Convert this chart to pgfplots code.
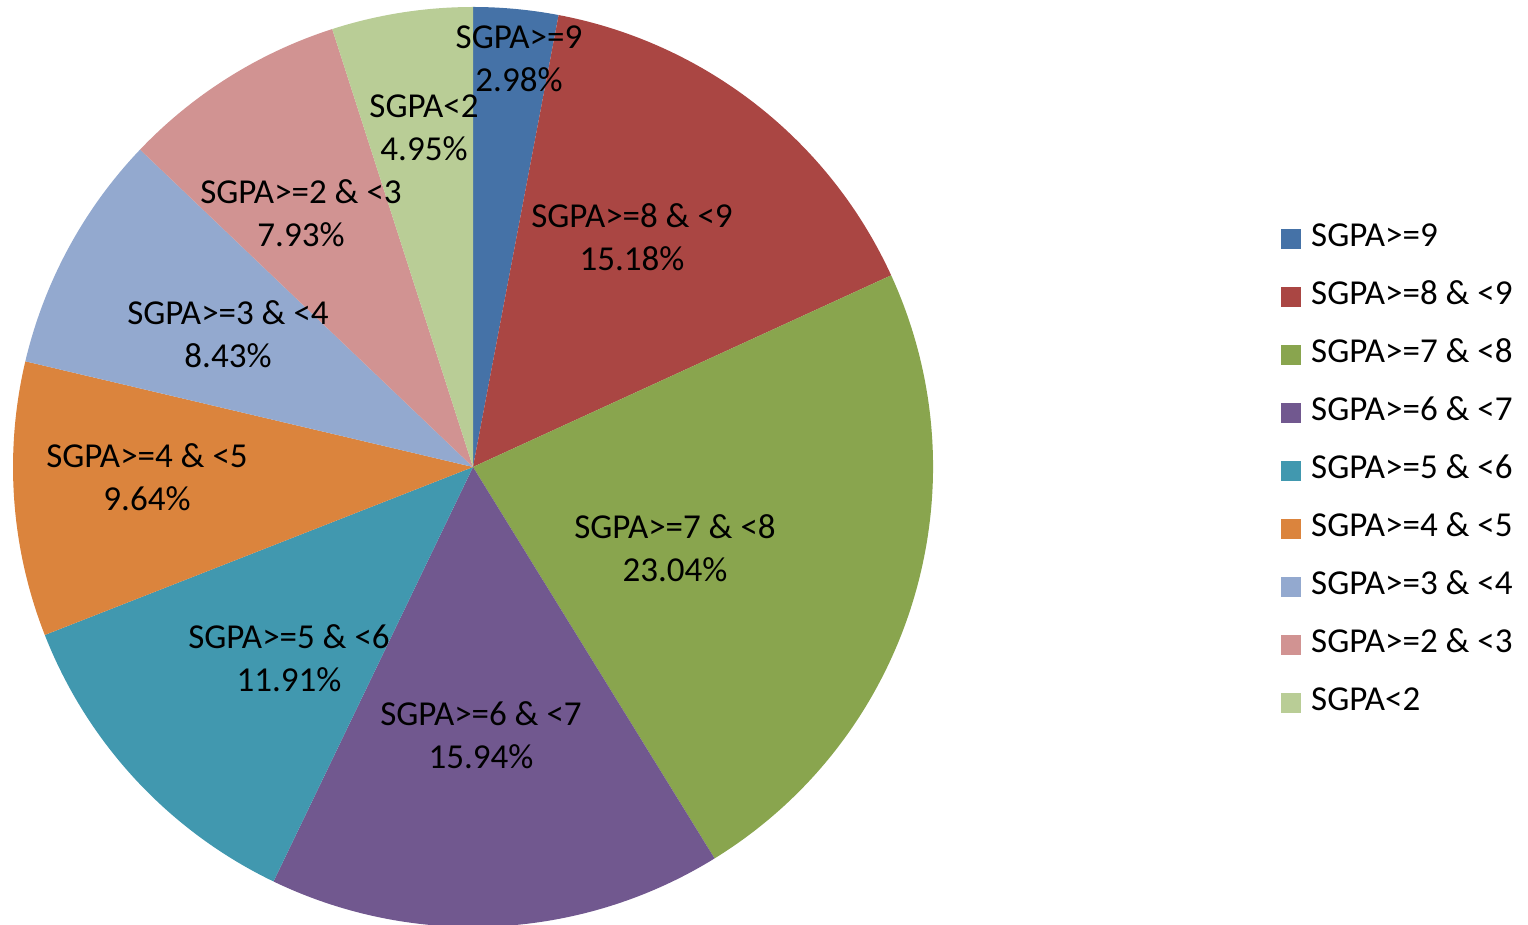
\documentclass[border=0pt]{standalone}
\usepackage{fontspec}
\setmainfont{Carlito}
\usepackage{pgfplots}
\usepackage{pgfplotstable}
\pgfplotsset{compat=1.18}
\definecolor{c0}{HTML}{4572A7}
\definecolor{c1}{HTML}{AA4643}
\definecolor{c2}{HTML}{89A54E}
\definecolor{c3}{HTML}{71588F}
\definecolor{c4}{HTML}{4198AF}
\definecolor{c5}{HTML}{DB843D}
\definecolor{c6}{HTML}{93A9CF}
\definecolor{c7}{HTML}{D19392}
\definecolor{c8}{HTML}{B9CD96}
\pgfplotstableread{
value
2.98
15.18
23.04
15.94
11.91
9.64
8.43
7.93
4.95
}\piedata
\pgfplotsset{sqlegend/.style={legend image code/.code={\fill[##1] (0bp,-5bp) rectangle (9.5bp,4.5bp);}}}
\begin{document}
\begin{tikzpicture}
\useasboundingbox (0,0) rectangle (764bp,462.5bp);
\gdef\cum{0}
\foreach \i in {0,...,8}{%
  \pgfplotstablegetelem{\i}{value}\of\piedata
  \pgfmathsetmacro\a{90-3.6*\cum}%
  \pgfmathsetmacro\b{90-3.6*(\cum+\pgfplotsretval)}%
  \expandafter\xdef\csname sa\i\endcsname{\a}%
  \expandafter\xdef\csname sb\i\endcsname{\b}%
  \pgfmathsetmacro\c{\cum+\pgfplotsretval}%
  \xdef\cum{\c}%
}
\begin{axis}[
  hide axis, scale only axis,
  width=764bp, height=462.5bp,
  xmin=0, xmax=1528, ymin=0, ymax=925,
  clip=false,
  legend style={at={(axis cs:1281,455)}, anchor=west, draw=none, fill=none,
    inner sep=0pt, font=\fontsize{17.5bp}{21bp}\selectfont,
    row sep=13bp, column sep=5bp,
    nodes={inner sep=0pt, text height=12.5bp, text depth=3.5bp}},
  legend cell align=left,
]
\pgfplotsinvokeforeach{0,...,8}{
  \fill[c#1] (axis cs:473,458) -- ++(\csname sa#1\endcsname:230bp)
    arc[start angle=\csname sa#1\endcsname, end angle=\csname sb#1\endcsname, radius=230bp] -- cycle;
}
\addlegendimage{c0, sqlegend}\addlegendentry{SGPA>=9}
\addlegendimage{c1, sqlegend}\addlegendentry{SGPA>=8 \& <9}
\addlegendimage{c2, sqlegend}\addlegendentry{SGPA>=7 \& <8}
\addlegendimage{c3, sqlegend}\addlegendentry{SGPA>=6 \& <7}
\addlegendimage{c4, sqlegend}\addlegendentry{SGPA>=5 \& <6}
\addlegendimage{c5, sqlegend}\addlegendentry{SGPA>=4 \& <5}
\addlegendimage{c6, sqlegend}\addlegendentry{SGPA>=3 \& <4}
\addlegendimage{c7, sqlegend}\addlegendentry{SGPA>=2 \& <3}
\addlegendimage{c8, sqlegend}\addlegendentry{SGPA<2}
\tikzset{lab/.style={align=center, inner sep=0pt, font=\fontsize{17.5bp}{21.5bp}\selectfont}}
\node[lab] at (axis cs:519,866) {SGPA>=9\\2.98\%};
\node[lab] at (axis cs:632,688) {SGPA>=8 \& <9\\15.18\%};
\node[lab] at (axis cs:675,377) {SGPA>=7 \& <8\\23.04\%};
\node[lab] at (axis cs:481,190) {SGPA>=6 \& <7\\15.94\%};
\node[lab] at (axis cs:289,267) {SGPA>=5 \& <6\\11.91\%};
\node[lab] at (axis cs:147,448) {SGPA>=4 \& <5\\9.64\%};
\node[lab] at (axis cs:228,591) {SGPA>=3 \& <4\\8.43\%};
\node[lab] at (axis cs:301,712) {SGPA>=2 \& <3\\7.93\%};
\node[lab] at (axis cs:424,797) {SGPA<2\\4.95\%};
\end{axis}
\end{tikzpicture}
\end{document}
